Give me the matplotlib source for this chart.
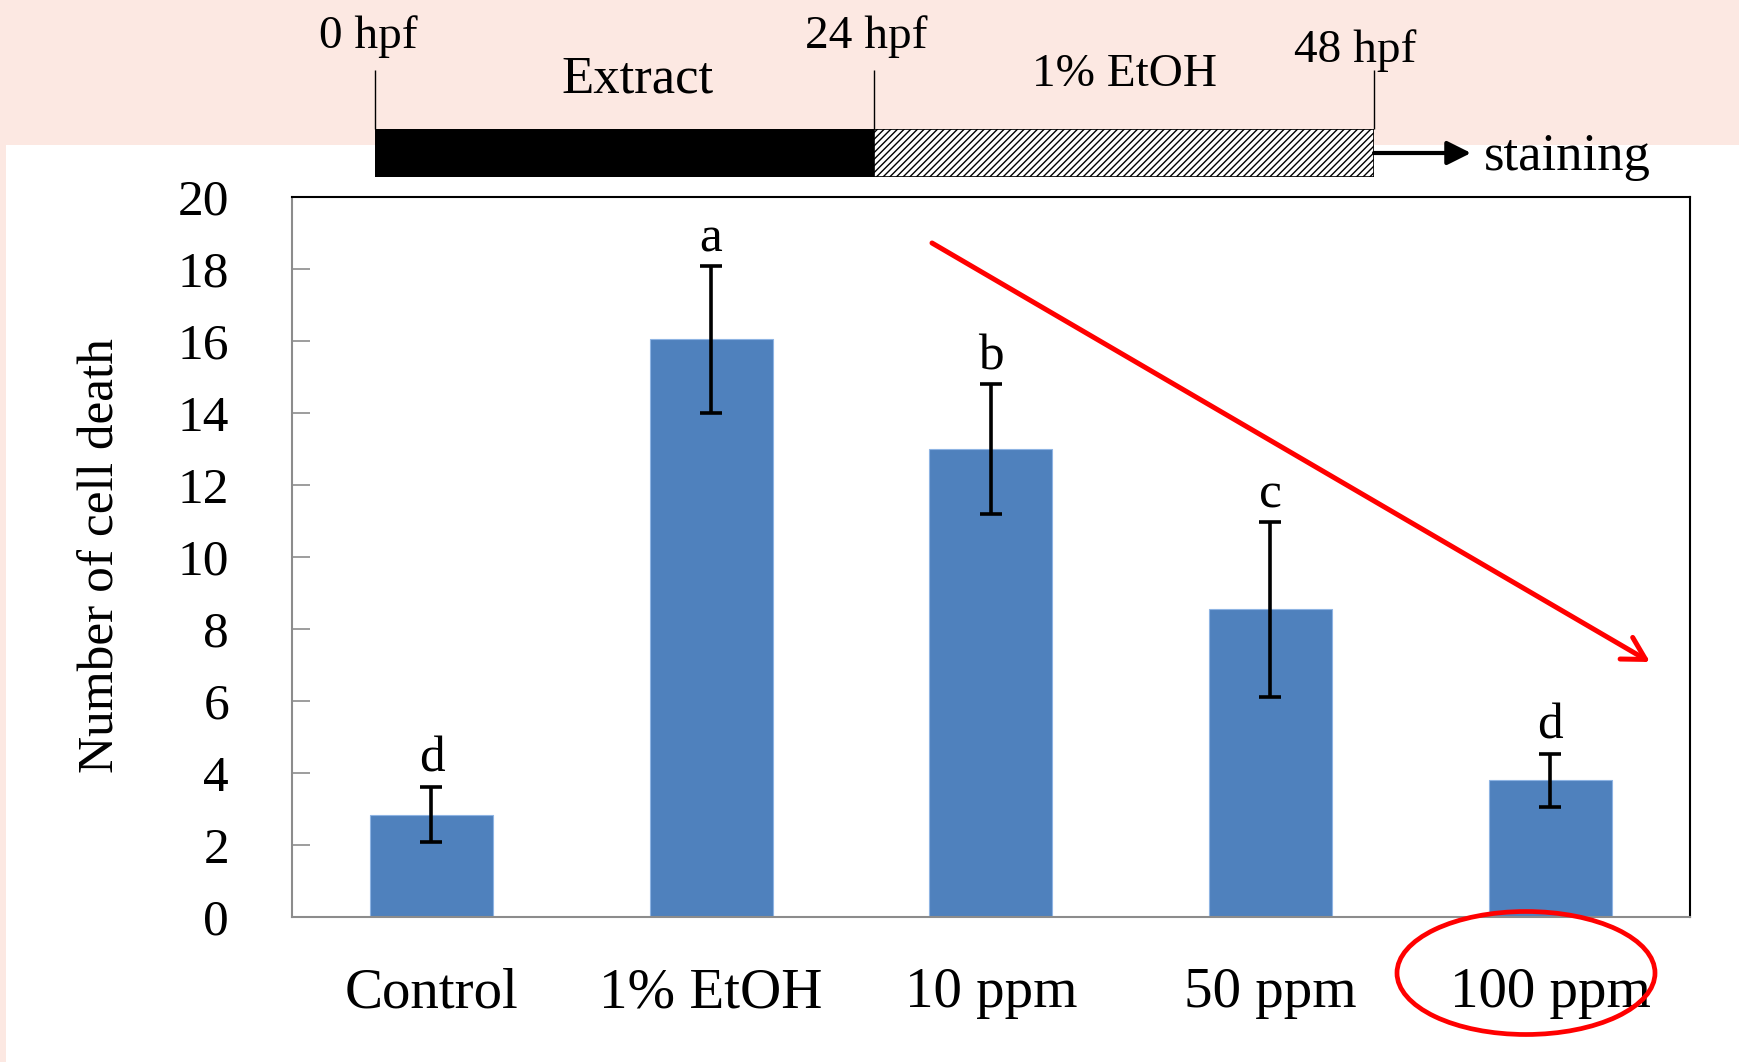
import matplotlib.pyplot as plt
import matplotlib.patches as mpatches
import numpy as np

plt.rcParams['font.family'] = ['Liberation Serif', 'DejaVu Serif']

# data
categories = ['Control', '1% EtOH', '10 ppm', '50 ppm', '100 ppm']
means = [2.85, 16.05, 13.0, 8.55, 3.8]
errors = [0.77, 2.03, 1.8, 2.42, 0.73]
letters = ['d', 'a', 'b', 'c', 'd']
yticks = [0, 2, 4, 6, 8, 10, 12, 14, 16, 18, 20]

# exposure timeline (hours post fertilization)
hours = [0, 24, 48]
hour_labels = ['0 hpf', '24 hpf', '48 hpf']
phases = ['Extract', '1% EtOH']

pink = '#FCE8E2'
blue = '#4F81BD'

fig = plt.figure(figsize=(17.4, 10.62), dpi=100, facecolor=pink)
# white panel under the chart
fig.patches.append(mpatches.Rectangle((6 / 1740, 0), 1, 1 - 145 / 1062,
                                      transform=fig.transFigure,
                                      facecolor='white', edgecolor='none', zorder=-10))

# main bar chart
ax = fig.add_axes([0.1676, 0.1363, 0.8036, 0.678])
x = np.arange(len(categories))
ax.bar(x, means, width=0.44, color=blue, edgecolor='#8EB4E3', linewidth=0.8, zorder=2)
ax.errorbar(x, means, yerr=errors, fmt='none', ecolor='black', elinewidth=2.6,
            capsize=8, capthick=2.6, zorder=3)
for xi, m, e, lab in zip(x, means, errors, letters):
    ax.annotate(lab, (xi, m + e), xytext=(0, 11), textcoords='offset points',
                ha='center', va='baseline', fontsize=37)

ax.set_xlim(-0.5, len(categories) - 0.5)
ax.set_ylim(0, 20)
ax.set_yticks(yticks)
ax.set_xticks(x)
ax.set_xticklabels(categories)
ax.tick_params(axis='y', direction='in', length=13, width=1.2, color='#8c8c8c',
               labelsize=37, pad=45)
ax.tick_params(axis='x', length=0, labelsize=41, pad=36)
for side in ['left', 'bottom']:
    ax.spines[side].set_color('#8c8c8c')
    ax.spines[side].set_linewidth(1.5)
for side in ['top', 'right']:
    ax.spines[side].set_color('black')
    ax.spines[side].set_linewidth(1.5)

fig.text(101 / 1740, 1 - 556 / 1062, 'Number of cell death', rotation=90,
         ha='center', va='center', fontsize=37)

# timeline on top
axt = fig.add_axes([375 / 1740, 1 - 177 / 1062, 999 / 1740, 48 / 1062])
axt.set_xlim(hours[0], hours[-1])
axt.set_ylim(0, 1)
axt.axis('off')
axt.barh(0.5, hours[1] - hours[0], left=hours[0], height=1, color='black',
         edgecolor='black', linewidth=1)
axt.barh(0.5, hours[2] - hours[1], left=hours[1], height=1, color='white',
         edgecolor='black', linewidth=1.2, hatch='/////')
axt.vlines(hours, 1, 2.23, color='black', linewidth=1, clip_on=False)
label_pos = [(-0.3, 2.92), (-0.4, 2.92), (-0.9, 2.63)]
for h, lab, (dx, yy) in zip(hours, hour_labels, label_pos):
    axt.text(h + dx, yy, lab, ha='center', va='center', fontsize=34, clip_on=False)
axt.text(12.6, 2.03, phases[0], ha='center', va='center', fontsize=38)
axt.text(36.0, 2.14, phases[1], ha='center', va='center', fontsize=34)
axt.annotate('', xy=(52.66, 0.5), xytext=(48, 0.5), annotation_clip=False,
             arrowprops=dict(arrowstyle='-|>,head_length=0.9,head_width=0.45',
                             color='black', lw=3, mutation_scale=16,
                             shrinkA=0, shrinkB=0))
axt.text(53.3, 0.42, 'staining', ha='left', va='center', fontsize=38)

# red trend arrow and highlight ellipse
fig.add_artist(mpatches.FancyArrowPatch(
    (932 / 1740, 1 - 243 / 1062), (1650 / 1740, 1 - 662 / 1062),
    transform=fig.transFigure, arrowstyle='->,head_length=0.8,head_width=0.45',
    mutation_scale=20, color='red', lw=3.6, shrinkA=0, shrinkB=0, zorder=5))
fig.add_artist(mpatches.Ellipse((1526 / 1740, 1 - 973 / 1062), 258 / 1740, 123 / 1062,
                                transform=fig.transFigure, fill=False,
                                edgecolor='red', lw=3.4, zorder=5))

fig.savefig('out.png', dpi=100, facecolor=pink)
